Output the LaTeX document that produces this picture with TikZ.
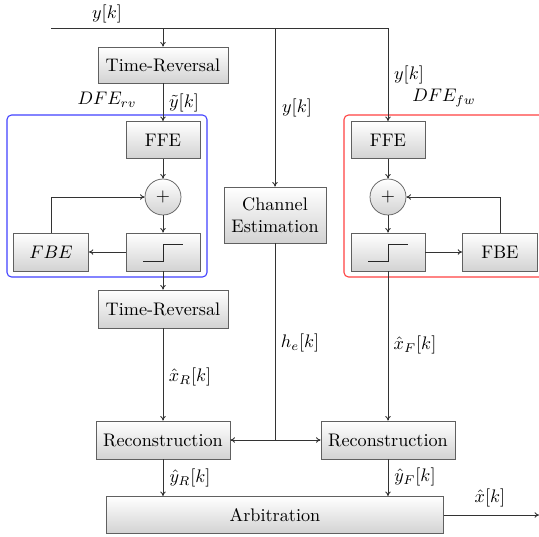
\documentclass[tikz,border=0pt]{standalone}
\usetikzlibrary{arrows.meta}
\begin{document}
\begin{tikzpicture}[x=0.55pt,y=-0.55pt,
  blk/.style={draw=gray!75!black, top color=white, bottom color=gray!35, inner sep=0pt, line width=0.4pt},
  sumnode/.style={circle, draw=gray!75!black, top color=white, bottom color=gray!35, minimum size=19.8pt, inner sep=0pt, line width=0.4pt},
  conn/.style={draw=black!80, line width=0.5pt},
  arr/.style={conn, -{To[length=2.5pt,width=3pt]}},
  lbl/.style={inner sep=0pt}]
\useasboundingbox (0,0) rectangle (539,536);
\clip (0,0) rectangle (539,536);

% group frames
\draw[blue!75, line width=0.6pt, rounded corners=2.5pt] (7,115) rectangle (207,277);
\draw[red!75, line width=0.6pt, rounded corners=2.5pt] (344,115) rectangle (560,277);

% blocks
\node[blk, minimum width=71.5pt, minimum height=19.8pt] (tr1) at (163,65) {Time-Reversal};
\node[blk, minimum width=40.7pt, minimum height=20.4pt] (ffe1) at (163,140) {FFE};
\node[sumnode] (sum1) at (163,197) {$+$};
\node[blk, minimum width=40.7pt, minimum height=20.9pt] (sl1) at (163,252) {};
\node[blk, minimum width=41.2pt, minimum height=20.9pt] (fbe1) at (51,252) {$FBE$};
\node[blk, minimum width=56.1pt, minimum height=30.8pt, align=center] (ce) at (275,215) {Channel\\Estimation};
\node[blk, minimum width=40.7pt, minimum height=20.4pt] (ffe2) at (388,140) {FFE};
\node[sumnode] (sum2) at (388,197) {$+$};
\node[blk, minimum width=40.7pt, minimum height=20.9pt] (sl2) at (388,252) {};
\node[blk, minimum width=41.2pt, minimum height=20.9pt] (fbe2) at (500,252) {FBE};
\node[blk, minimum width=71.5pt, minimum height=20.9pt] (tr2) at (163,309) {Time-Reversal};
\node[blk, minimum width=73.7pt, minimum height=20.9pt] (rec1) at (163,440) {Reconstruction};
\node[blk, minimum width=73.7pt, minimum height=20.9pt] (rec2) at (388,440) {Reconstruction};
\node[blk, minimum width=185.4pt, minimum height=20.4pt] (arb) at (275,515) {Arbitration};

% slicer symbols
\draw[black!85, line width=0.5pt] (143,261) -- (163,261) -- (163,244) -- (183,244);
\draw[black!85, line width=0.5pt] (368,261) -- (388,261) -- (388,244) -- (408,244);

% input bus
\coordinate (in) at (51,28);
\coordinate (tap1) at (163,28);
\coordinate (tap2) at (275,28);
\coordinate (corner) at (388,28);
\draw[conn] (in) -- (corner);
\draw[arr] (tap1) -- (tr1);
\draw[arr] (tap2) -- (ce);
\draw[arr] (corner) -- (ffe2);

% reverse DFE
\draw[arr] (tr1) -- (ffe1);
\draw[arr] (ffe1) -- (sum1);
\draw[arr] (sum1) -- (sl1);
\draw[arr] (sl1) -- (fbe1);
\draw[arr] (fbe1.north) |- (sum1.west);
\draw[arr] (sl1) -- (tr2);
\draw[arr] (tr2) -- (rec1);
\draw[arr] (rec1) -- (rec1 |- arb.north);

% forward DFE
\draw[arr] (ffe2) -- (sum2);
\draw[arr] (sum2) -- (sl2);
\draw[arr] (sl2) -- (fbe2);
\draw[arr] (fbe2.north) |- (sum2.east);
\draw[arr] (sl2) -- (rec2);
\draw[arr] (rec2) -- (rec2 |- arb.north);

% channel estimate distribution
\coordinate (junc) at (275,440);
\draw[conn] (ce) -- (junc);
\draw[arr] (junc) -- (rec1);
\draw[arr] (junc) -- (rec2);

% output
\coordinate (out) at (539,515);
\draw[arr] (arb) -- (out);

% labels
\node[lbl] (l1) at (107,14) {$y[k]$};
\node[lbl] (l2) at (107,100) {$DFE_{rv}$};
\node[lbl] (l3) at (184,103) {$\tilde{y}[k]$};
\node[lbl] (l4) at (297,108) {$y[k]$};
\node[lbl] (l5) at (409,75) {$y[k]$};
\node[lbl] (l6) at (444,98) {$DFE_{fw}$};
\node[lbl] (l7) at (190,377) {$\hat{x}_R[k]$};
\node[lbl] (l8) at (190,478) {$\hat{y}_R[k]$};
\node[lbl] (l9) at (300,343) {$h_e[k]$};
\node[lbl] (l10) at (415,345) {$\hat{x}_F[k]$};
\node[lbl] (l11) at (415,477) {$\hat{y}_F[k]$};
\node[lbl] (l12) at (490,498) {$\hat{x}[k]$};
\end{tikzpicture}
\end{document}
